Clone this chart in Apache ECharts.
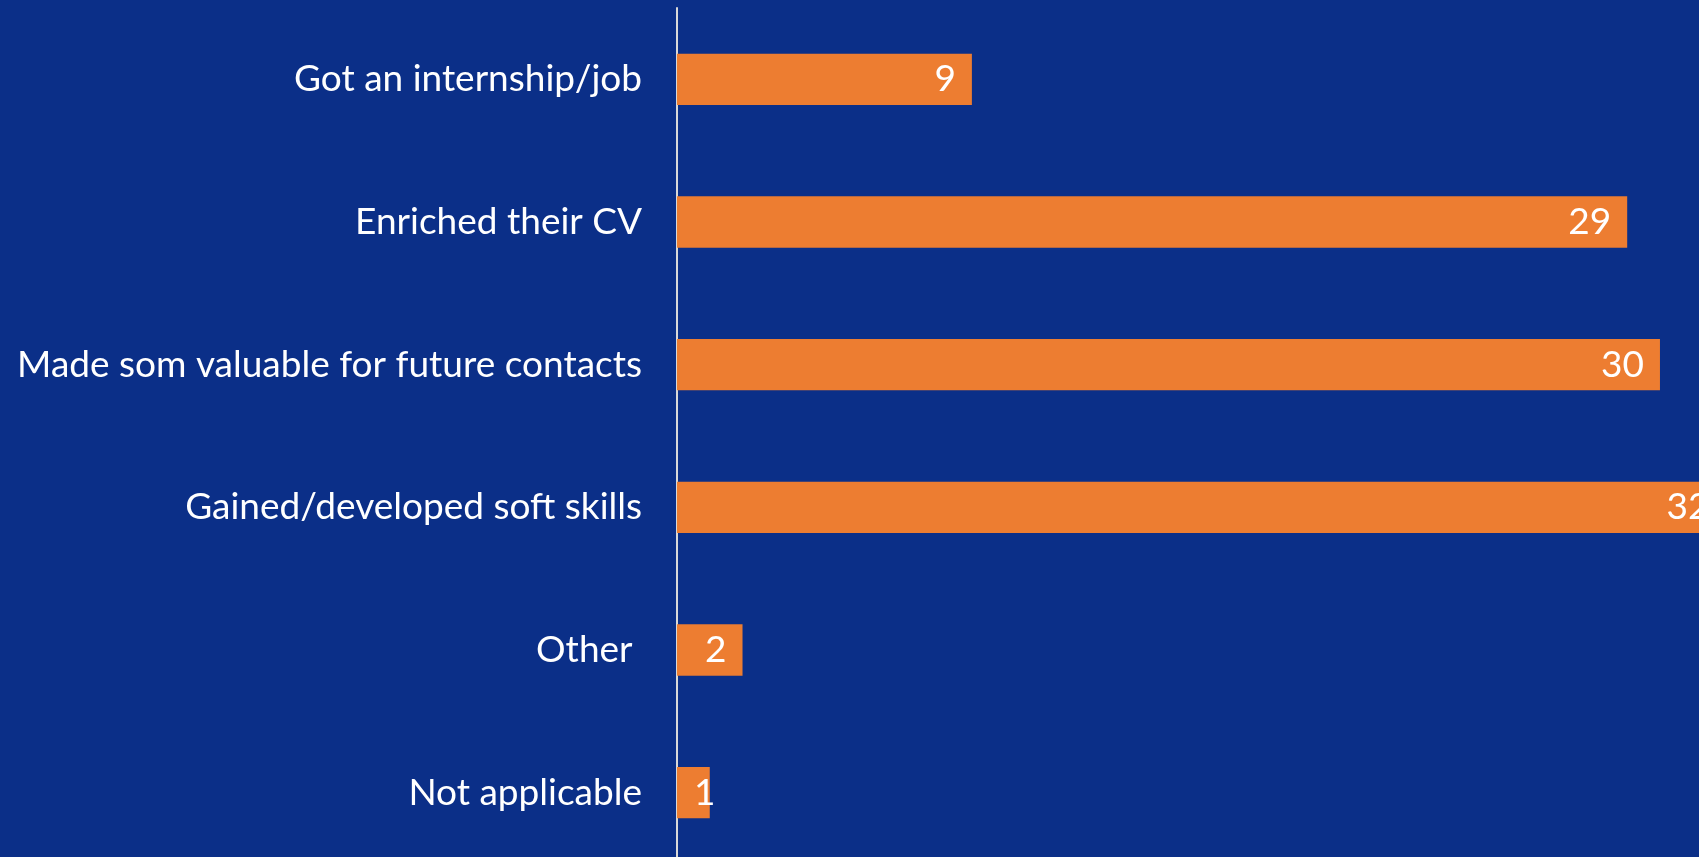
<!DOCTYPE html>
<html>
<head>
<meta charset="utf-8">
<title>Outcomes</title>
<script src="https://cdn.jsdelivr.net/npm/echarts@6/dist/echarts.min.js"></script>
<style>
  html, body { margin: 0; padding: 0; background: #0B2F88; overflow: hidden; }
  #chart { width: 1699px; height: 857px; }
</style>
</head>
<body>
<div id="chart"></div>
<script>
// Categories listed bottom-to-top so the first one sits at the top of the y axis
const categories = [
  'Not applicable',
  'Other ',
  'Gained/developed soft skills',
  'Made som valuable for future contacts',
  'Enriched their CV',
  'Got an internship/job'
];
const counts = [1, 2, 32, 30, 29, 9];

const labelFont = 'Lato, "Open Sans", sans-serif';

const chart = echarts.init(document.getElementById('chart'), null, { renderer: 'canvas' });

chart.setOption({
  backgroundColor: '#0B2F88',
  animation: false,
  // the plot runs past the right and bottom edges of the canvas
  grid: {
    left: 677, top: 8, width: 1173, height: 856,
    containLabel: false,
    outerBoundsMode: 'none'
  },
  xAxis: {
    type: 'value',
    min: 0,
    max: 35.8,
    show: false
  },
  yAxis: {
    type: 'category',
    data: categories,
    axisLine: { show: true, lineStyle: { color: '#D9D9D9', width: 2 } },
    axisTick: { show: false },
    axisLabel: {
      color: '#FFFFFF',
      fontFamily: labelFont,
      fontSize: 37,
      margin: 35
    }
  },
  series: [{
    type: 'bar',
    // very short bars carry their label from the left edge instead
    data: counts.map(v => v < 2
      ? { value: v, label: { position: 'insideLeft', distance: 17 } }
      : v),
    barCategoryGap: '64%',
    itemStyle: { color: '#ED7D31' },
    label: {
      show: true,
      position: 'insideRight',
      distance: 16,
      color: '#FFFFFF',
      fontFamily: labelFont,
      fontSize: 37
    }
  }]
});
</script>
</body>
</html>
